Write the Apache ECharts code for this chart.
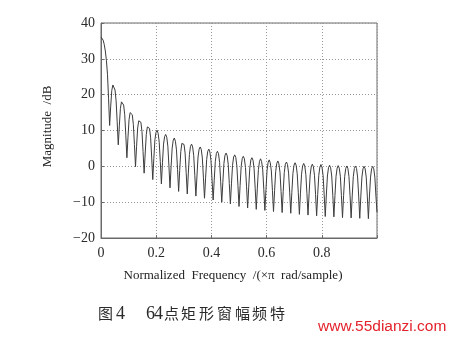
<!DOCTYPE html>
<html lang="zh" style="height: 100%">
<head>
  <meta charset="utf-8">
</head>
<body style="height: 100%; margin: 0; background: #fff">
  <div id="container" style="width: 451px; height: 338px"></div>

  <script type="text/javascript" src="https://fastly.jsdelivr.net/npm/echarts@6/dist/echarts.min.js"></script>
  <script type="text/javascript">
    // samples every 1/256 (x pi rad/sample), 8 per lobe
    var freqStep = 1 / 256;

    // main lobe, first 8 samples (dB)
    var mainLobe = [36.1, 35.9, 35.2, 34.0, 32.2, 29.6, 25.7, 19.0];

    // drawn minimum at each null k/32, k = 1..32
    var nulls = [11.4, 6.0, 2.4, -0.1, -1.9, -3.7, -4.9, -6.0, -7.0, -7.7, -8.3, -8.9, -9.4, -10.0, -10.5, -11.2,
      -11.6, -12.0, -12.3, -12.6, -12.9, -13.1, -13.4, -13.6, -13.8, -14.0, -14.1, -14.3, -14.4, -14.5, -14.6, -12.8];

    // side lobes 1..31, the 7 samples between two nulls (dB)
    var sideLobes = [
      [16.8, 21.2, 22.7, 22.7, 21.3, 18.3, 12.4],
      [11.3, 16.2, 18.0, 18.2, 17.1, 14.4, 8.7],
      [8.0, 13.0, 15.0, 15.3, 14.4, 11.7, 6.1],
      [5.6, 10.7, 12.7, 13.2, 12.3, 9.7, 4.1],
      [3.7, 8.9, 11.0, 11.5, 10.6, 8.1, 2.6],
      [2.2, 7.4, 9.5, 10.1, 9.2, 6.7, 1.3],
      [1.0, 6.2, 8.3, 8.9, 8.1, 5.6, 0.1],
      [-0.1, 5.1, 7.3, 7.9, 7.0, 4.6, -0.9],
      [-1.1, 4.1, 6.4, 6.9, 6.1, 3.7, -1.7],
      [-1.9, 3.3, 5.6, 6.2, 5.4, 3.0, -2.5],
      [-2.7, 2.6, 4.8, 5.4, 4.7, 2.3, -3.2],
      [-3.3, 1.9, 4.2, 4.8, 4.0, 1.6, -3.8],
      [-3.9, 1.3, 3.6, 4.2, 3.5, 1.1, -4.3],
      [-4.5, 0.8, 3.1, 3.7, 3.0, 0.6, -4.8],
      [-4.9, 0.3, 2.6, 3.2, 2.5, 0.1, -5.3],
      [-5.4, -0.1, 2.2, 2.8, 2.1, -0.3, -5.7],
      [-5.8, -0.5, 1.8, 2.4, 1.7, -0.7, -6.1],
      [-6.1, -0.9, 1.4, 2.1, 1.3, -1.0, -6.4],
      [-6.5, -1.2, 1.1, 1.8, 1.0, -1.3, -6.7],
      [-6.8, -1.5, 0.8, 1.5, 0.7, -1.6, -7.0],
      [-7.0, -1.7, 0.6, 1.2, 0.5, -1.9, -7.2],
      [-7.3, -2.0, 0.3, 1.0, 0.3, -2.1, -7.4],
      [-7.5, -2.2, 0.1, 0.8, 0.1, -2.3, -7.6],
      [-7.7, -2.4, -0.1, 0.6, -0.1, -2.5, -7.8],
      [-7.8, -2.5, -0.2, 0.5, -0.3, -2.6, -7.9],
      [-8.0, -2.7, -0.4, 0.3, -0.4, -2.7, -8.1],
      [-8.1, -2.8, -0.5, 0.2, -0.5, -2.8, -8.2],
      [-8.2, -2.9, -0.6, 0.1, -0.6, -2.9, -8.2],
      [-8.3, -2.9, -0.6, 0.1, -0.6, -3.0, -8.3],
      [-8.3, -3.0, -0.7, 0.0, -0.7, -3.0, -8.3],
      [-8.3, -3.0, -0.7, 0.0, -0.7, -3.0, -8.3]
    ];

    var xTicks = [0, 0.2, 0.4, 0.6, 0.8];

    // caption pieces
    var captionChars = ['图', '4', '6', '4', '点', '矩', '形', '窗', '幅', '频', '特'];
    var captionLeft = [98, 116, 146, 154, 164, 181, 199, 217, 235, 252, 270];

    // put the samples in order
    var samples = mainLobe.slice();
    sideLobes.forEach(function (lobe, k) {
      samples.push(nulls[k]);
      lobe.forEach(function (v) { samples.push(v); });
    });
    samples.push(nulls[nulls.length - 1]);
    var data = samples.map(function (v, i) { return [i * freqStep, v]; });

    var serif = 'Liberation Serif';
    var dom = document.getElementById('container');
    var myChart = echarts.init(dom, null, { renderer: 'canvas' });

    var graphics = captionChars.map(function (c, i) {
      var latin = /[0-9]/.test(c);
      return {
        type: 'text',
        left: captionLeft[i],
        top: latin ? 305 : 306,
        style: {
          text: c,
          font: latin ? '18px "Liberation Serif"' : '15px "Noto Sans CJK SC"',
          fill: '#2a2a2a'
        }
      };
    });
    graphics.push({
      type: 'text',
      left: 318,
      top: 319,
      style: {
        text: 'www.55dianzi.com',
        font: '15.5px "Liberation Sans"',
        fill: '#e3222b'
      }
    });

    var option = {
      backgroundColor: '#fff',
      animation: false,
      grid: {
        left: 101,
        right: 74,
        top: 23,
        bottom: 100,
        show: true,
        borderColor: '#6a6a6a',
        borderWidth: 1
      },
      xAxis: {
        type: 'value',
        min: 0,
        max: 1,
        interval: 0.2,
        name: 'Normalized  Frequency  /(×π  rad/sample)',
        nameLocation: 'middle',
        nameGap: 31,
        nameTextStyle: { fontFamily: serif, fontSize: 13, color: '#222', padding: [0, 12, 0, 0] },
        axisLine: { onZero: false, lineStyle: { color: '#6a6a6a' } },
        axisTick: { inside: true, length: 3, lineStyle: { color: '#6a6a6a' } },
        axisLabel: {
          margin: 8,
          fontFamily: serif,
          fontSize: 14,
          color: '#2a2a2a',
          formatter: function (v) {
            return xTicks.indexOf(Math.round(v * 10) / 10) >= 0 ? String(Math.round(v * 10) / 10) : '';
          }
        },
        splitLine: { show: true, lineStyle: { color: '#999', type: [1, 2] } }
      },
      yAxis: {
        type: 'value',
        min: -20,
        max: 40,
        interval: 10,
        name: 'Magnitude  /dB',
        nameLocation: 'middle',
        nameGap: 47,
        nameTextStyle: { fontFamily: serif, fontSize: 13, color: '#222', padding: [0, 0, 0, 8] },
        axisLine: { show: true, onZero: false, lineStyle: { color: '#6a6a6a' } },
        axisTick: { show: true, inside: true, length: 3, lineStyle: { color: '#6a6a6a' } },
        axisLabel: {
          margin: 6,
          fontFamily: serif,
          fontSize: 14,
          color: '#2a2a2a',
          formatter: function (v) { return String(v).replace('-', '\u2212'); }
        },
        splitLine: { show: true, lineStyle: { color: '#999', type: [1, 2] } }
      },
      series: [
        {
          type: 'line',
          data: data,
          showSymbol: false,
          lineStyle: { color: '#3c3c3c', width: 1 }
        }
      ],
      graphic: graphics
    };

    myChart.setOption(option);
    window.addEventListener('resize', myChart.resize);
  </script>
</body>
</html>
